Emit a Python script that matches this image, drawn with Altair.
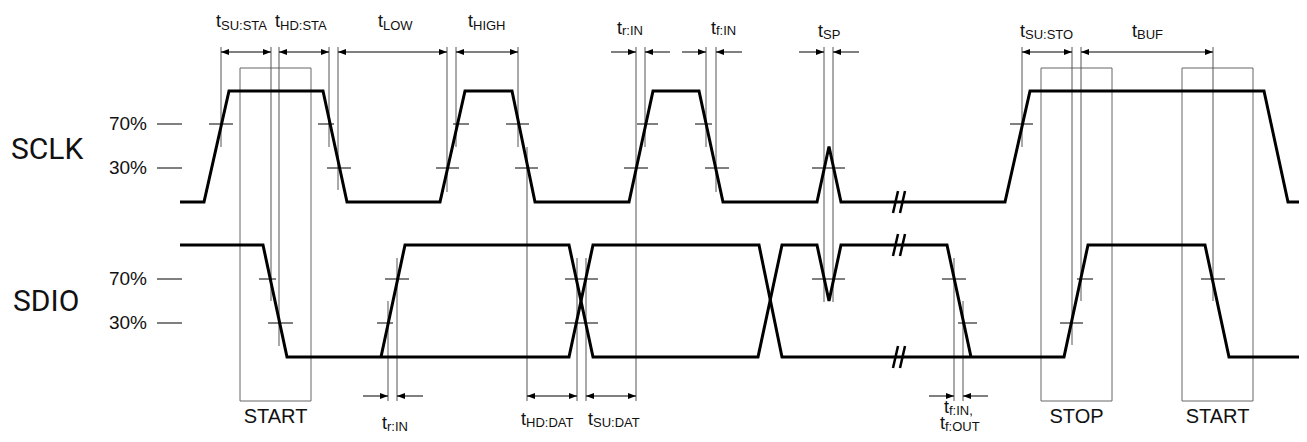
import altair as alt
import pandas as pd

# ---------------- waveform data (time position, logic level 0..1) ----------------
SCLK_T = [180, 204, 229, 323, 347, 440, 465, 512, 535, 629, 653, 699, 723, 817, 829, 841, 1005, 1030, 1264, 1288, 1307]
SCLK_L = [0, 0, 1, 1, 0, 0, 1, 1, 0, 0, 1, 1, 0, 0, 0.5, 0, 0, 1, 1, 0, 0]

SDIO_A_T = [180, 263, 287, 569, 593, 759, 782, 1064, 1088, 1205, 1229, 1307]
SDIO_A_L = [1, 1, 0, 0, 1, 1, 0, 0, 1, 1, 0, 0]

SDIO_B_T = [381, 405, 569, 593, 758, 782, 817, 829, 841, 947, 971]
SDIO_B_L = [0, 1, 1, 0, 0, 1, 1, 0.5, 1, 1, 0]

# signal rows (low / high level position)
ROW_LOW = {"SCLK": 202, "SDIO": 357}
ROW_HIGH = {"SCLK": 91, "SDIO": 245}

# ---------------- guide lines ----------------
GUIDE_X = [221, 271, 279, 329, 338, 447, 456, 518, 527, 636, 645, 706, 716, 824, 833,
           1022, 1072, 1081, 1213, 388, 397, 577, 586, 954, 963]
GUIDE_Y1 = [47, 47, 47, 47, 47, 47, 47, 47, 147, 47, 47, 47, 47, 47, 47,
            47, 47, 47, 47, 301, 258, 258, 258, 258, 301]
GUIDE_Y2 = [147, 301, 346, 147, 190, 192, 147, 147, 401, 401, 147, 147, 192, 302, 302,
            147, 345, 301, 301, 401, 401, 401, 401, 401, 401]

# START / STOP condition boxes
BOX_X1 = [240, 1041, 1182]
BOX_X2 = [311, 1112, 1253]
BOX_LABEL = ["START", "STOP", "START"]

# threshold crossing ticks
TICK_Y = [124, 124, 124, 124, 124, 124, 124,
          168, 168, 168, 168, 168, 168,
          279, 279, 279, 279, 279, 279, 279,
          323, 323, 323, 323, 323]
TICK_X1 = [209, 318, 453, 506, 637, 695, 1010,
           327, 436, 515, 624, 705, 812,
           259, 385, 565, 812, 942, 1077, 1201,
           268, 377, 565, 958, 1060]
TICK_X2 = [233, 334, 469, 529, 658, 712, 1033,
           351, 459, 538, 648, 729, 845,
           276, 409, 598, 845, 966, 1093, 1225,
           293, 393, 598, 977, 1083]

# level labels on the left
LEVEL_TEXT = ["70%", "30%", "70%", "30%"]
LEVEL_Y = [124, 168, 279, 323]
SIGNAL_NAMES = ["SCLK", "SDIO"]
SIGNAL_BASE = [159, 311]

# ---------------- dimension arrows ----------------
ARROW_Y = [52, 52, 52, 52, 52, 52, 52, 52, 52, 52, 52, 52,
           396, 396, 396, 396, 396, 396]
ARROW_X1 = [221, 279, 338, 456, 611, 645, 682, 716, 799, 833, 1022, 1081,
            363, 397, 527, 586, 929, 963]
ARROW_X2 = [271, 329, 447, 518, 636, 670, 706, 742, 824, 859, 1072, 1213,
            388, 423, 577, 636, 954, 988]

HEAD_R_X = [271, 329, 447, 518, 636, 706, 824, 1072, 1213, 388, 577, 636, 954]
HEAD_R_Y = [52, 52, 52, 52, 52, 52, 52, 52, 52, 396, 396, 396, 396]
HEAD_L_X = [221, 279, 338, 456, 645, 716, 833, 1022, 1081, 397, 527, 586, 963]
HEAD_L_Y = [52, 52, 52, 52, 52, 52, 52, 52, 52, 396, 396, 396, 396]

# timing parameter labels: "t" + subscript
SUB_TEXT = ["SU:STA", "HD:STA", "LOW", "HIGH", "r:IN", "f:IN", "SP", "SU:STO", "BUF",
            "r:IN", "HD:DAT", "SU:DAT", "f:IN,", "f:OUT"]
SUB_X = [221, 280, 383, 473, 622, 716, 823, 1025, 1137,
         387, 526, 593, 949, 945]
T_BASE = [27, 27, 27, 27, 34, 34, 37, 37, 37,
          429, 425, 425, 413, 429]
SUB_BASE = [30, 30, 30, 30, 35, 35, 39, 39, 39,
            431, 427, 427, 415, 430.5]

# line breaks ("//")
BREAK_X = [899.5, 899.5, 899.5]
BREAK_Y = [202, 245, 357]

# ---------------- build tables ----------------
rows = []
for name, ts, ls, row in [("SCLK", SCLK_T, SCLK_L, "SCLK"),
                          ("SDIO_A", SDIO_A_T, SDIO_A_L, "SDIO"),
                          ("SDIO_B", SDIO_B_T, SDIO_B_L, "SDIO")]:
    lo, hi = ROW_LOW[row], ROW_HIGH[row]
    for i, (t, l) in enumerate(zip(ts, ls)):
        rows.append({"trace": name, "i": i, "x": t, "y": lo - l * (lo - hi)})
wave = pd.DataFrame(rows)

guides = pd.DataFrame({"x": GUIDE_X, "y": GUIDE_Y1, "y2": GUIDE_Y2})
boxes = pd.DataFrame({"x": BOX_X1, "x2": BOX_X2, "y": [68] * 3, "y2": [401] * 3,
                      "label": BOX_LABEL, "cx": [(a + b) / 2 for a, b in zip(BOX_X1, BOX_X2)],
                      "ly": [417] * 3})
ticks = pd.DataFrame({"x": TICK_X1, "x2": TICK_X2, "y": TICK_Y})
level_lbl = pd.DataFrame({"text": LEVEL_TEXT, "y": LEVEL_Y, "x": [147] * 4,
                          "dx1": [157] * 4, "dx2": [182] * 4})
sig_lbl = pd.DataFrame({"text": SIGNAL_NAMES, "y": SIGNAL_BASE, "x": [11, 13]})
arrows = pd.DataFrame({"x": ARROW_X1, "x2": ARROW_X2, "y": ARROW_Y})
heads_r = pd.DataFrame({"x": HEAD_R_X, "y": HEAD_R_Y})
heads_l = pd.DataFrame({"x": HEAD_L_X, "y": HEAD_L_Y})
tlabels = pd.DataFrame({"sub": SUB_TEXT, "x": SUB_X, "tb": T_BASE, "sb": SUB_BASE})
brk = []
for bx, by in zip(BREAK_X, BREAK_Y):
    brk.append({"x": bx - 6.5, "y": by + 11, "x2": bx - 1.5, "y2": by - 11})
    brk.append({"x": bx + 0.5, "y": by + 11, "x2": bx + 5.5, "y2": by - 11})
breaks = pd.DataFrame(brk)

XS = alt.Scale(domain=[8, 1299], nice=False, zero=False)
YS = alt.Scale(domain=[8, 434], nice=False, zero=False, reverse=True)


def X(f="x"):
    return alt.X(f"{f}:Q", scale=XS, axis=None)


def Y(f="y"):
    return alt.Y(f"{f}:Q", scale=YS, axis=None)


FONT = "Liberation Sans"

wave_layer = alt.Chart(wave).mark_line(color="black", strokeWidth=3, strokeJoin="miter").encode(
    x=X(), y=Y(), detail="trace:N", order="i:Q")

guide_layer = alt.Chart(guides).mark_rule(color="#555555", strokeWidth=1).encode(
    x=X(), y=Y(), y2="y2:Q")

box_layer = alt.Chart(boxes).mark_rect(fill=None, fillOpacity=0, stroke="#666666", strokeWidth=1).encode(
    x=X(), x2="x2:Q", y=Y(), y2="y2:Q")

box_text = alt.Chart(boxes).mark_text(font=FONT, fontSize=20, baseline="middle", align="center",
                                      color="#111111").encode(
    x=X("cx"), y=Y("ly"), text="label:N")

tick_layer = alt.Chart(ticks).mark_rule(color="black", strokeWidth=1).encode(
    x=X(), x2="x2:Q", y=Y())

level_text = alt.Chart(level_lbl).mark_text(font=FONT, fontSize=19, align="right", baseline="middle",
                                            color="#111111").encode(x=X(), y=Y(), text="text:N")
level_dash = alt.Chart(level_lbl).mark_rule(color="black", strokeWidth=1).encode(
    x=X("dx1"), x2="dx2:Q", y=Y())

sig_text = alt.Chart(sig_lbl).mark_text(font="Roboto", fontSize=30, align="left", baseline="alphabetic",
                                        color="#111111").encode(x=X(), y=Y(), text="text:N")

arrow_layer = alt.Chart(arrows).mark_rule(color="black", strokeWidth=1).encode(
    x=X(), x2="x2:Q", y=Y())

head_r_layer = alt.Chart(heads_r).mark_point(shape="M0,0L-2,-0.75L-2,0.75Z", size=64, filled=True,
                                             color="black", opacity=1, strokeWidth=0).encode(x=X(), y=Y())
head_l_layer = alt.Chart(heads_l).mark_point(shape="M0,0L2,-0.75L2,0.75Z", size=64, filled=True,
                                             color="black", opacity=1, strokeWidth=0).encode(x=X(), y=Y())

t_text = alt.Chart(tlabels).mark_text(font=FONT, fontSize=18, align="right", baseline="alphabetic",
                                      color="#111111", text="t").encode(x=X(), y=Y("tb"))
sub_text = alt.Chart(tlabels).mark_text(font=FONT, fontSize=13, align="left", baseline="alphabetic",
                                        color="#111111").encode(x=X(), y=Y("sb"), text="sub:N")

break_layer = alt.Chart(breaks).mark_rule(color="black", strokeWidth=2.5).encode(
    x=X(), y=Y(), x2="x2:Q", y2="y2:Q")

chart = alt.layer(
    box_layer, guide_layer, tick_layer, level_dash, arrow_layer, head_r_layer, head_l_layer,
    wave_layer, break_layer, level_text, sig_text, t_text, sub_text, box_text
).properties(
    width=1291, height=426, padding=0, background="white",
    autosize=alt.AutoSizeParams(type="none")
).configure_view(stroke=None)

chart.save("out.html", embed_options={"renderer": "svg", "actions": False})
